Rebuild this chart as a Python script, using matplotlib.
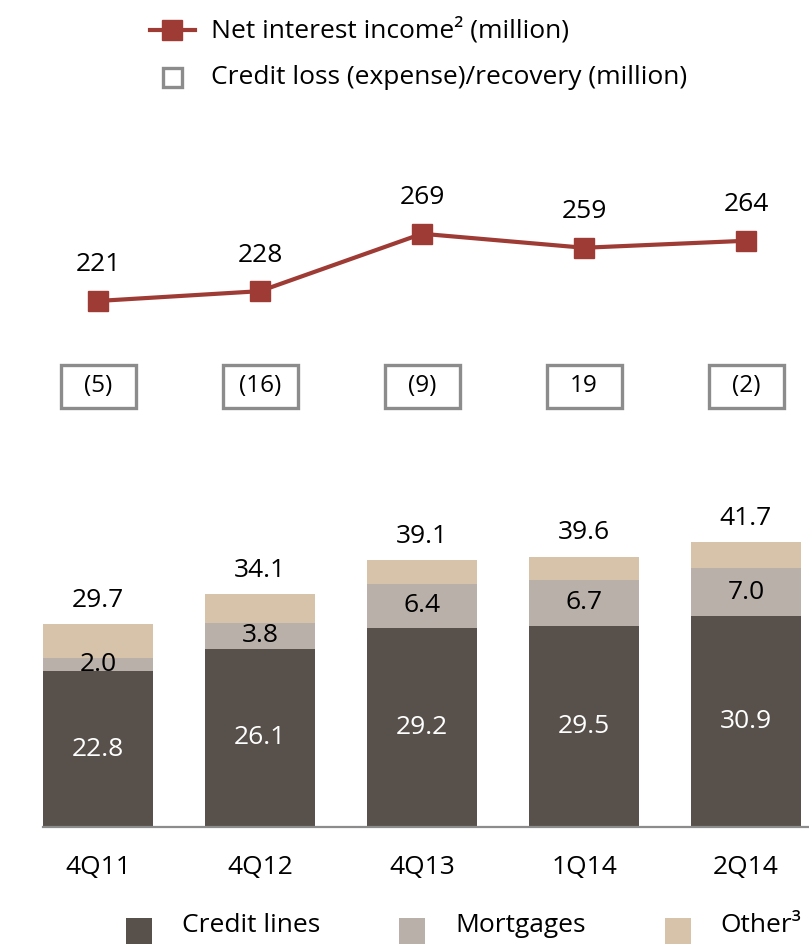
import matplotlib
matplotlib.use("Agg")
import matplotlib.pyplot as plt
from matplotlib.patches import Rectangle
from matplotlib.lines import Line2D

plt.rcParams['font.family'] = ['Open Sans', 'DejaVu Sans']

# ---- data ----
quarters = ["4Q11", "4Q12", "4Q13", "1Q14", "2Q14"]
net_interest_income = [221, 228, 269, 259, 264]
credit_loss_labels = ["(5)", "(16)", "(9)", "19", "(2)"]
credit_lines = [22.8, 26.1, 29.2, 29.5, 30.9]
mortgages = [2.0, 3.8, 6.4, 6.7, 7.0]
totals = [29.7, 34.1, 39.1, 39.6, 41.7]
other = [round(t - c - m, 1) for t, c, m in zip(totals, credit_lines, mortgages)]

# ---- style ----
RED = "#9e3b35"
C_CREDIT = "#58504a"
C_MORT = "#b9b0aa"
C_OTHER = "#d7c3a9"
GRAY = "#8c8c8c"
FS = 19

W, H = 809, 944
fig = plt.figure(figsize=(W / 100, H / 100), dpi=100)

def fx(px):
    return px / W

def fy(py):
    return 1 - py / H

x = list(range(len(quarters)))
xl = ((43 - 98) / 162, (808 - 98) / 162)

# ---- bar axes ----
axb = fig.add_axes([fx(43), fy(827), fx(808) - fx(43), fy(480) - fy(827)])
bw = 110 / 162
axb.bar(x, credit_lines, width=bw, color=C_CREDIT)
axb.bar(x, mortgages, width=bw, bottom=credit_lines, color=C_MORT)
bot2 = [c + m for c, m in zip(credit_lines, mortgages)]
axb.bar(x, other, width=bw, bottom=bot2, color=C_OTHER)
axb.set_xlim(*xl)
axb.set_ylim(0, 347 / 6.83)
for i in x:
    axb.text(i, credit_lines[i] / 2, f"{credit_lines[i]:.1f}", ha="center", va="center",
             color="white", fontsize=FS)
    axb.text(i, credit_lines[i] + mortgages[i] / 2, f"{mortgages[i]:.1f}", ha="center",
             va="center", color="black", fontsize=FS)
    axb.annotate(f"{totals[i]:.1f}", (i, totals[i]), xytext=(0, 17), textcoords="offset points",
                 ha="center", va="center", fontsize=FS)
for s in ["top", "left", "right"]:
    axb.spines[s].set_visible(False)
axb.spines["bottom"].set_color(GRAY)
axb.spines["bottom"].set_linewidth(1.6)
axb.set_yticks([])
axb.set_xticks(x)
axb.set_xticklabels(quarters, fontsize=FS)
axb.tick_params(axis="x", length=0, pad=20)

# ---- line axes ----
axl = fig.add_axes([fx(43), fy(320), fx(808) - fx(43), fy(180) - fy(320)])
axl.plot(x, net_interest_income, color=RED, lw=3, marker="s", markersize=14,
         markerfacecolor=RED, markeredgecolor=RED)
axl.set_xlim(*xl)
axl.set_ylim(207.4, 307.4)
for i in x:
    axl.annotate(str(net_interest_income[i]), (i, net_interest_income[i]), xytext=(0, 26),
                 textcoords="offset points", ha="center", va="center", fontsize=FS)
axl.axis("off")

# ---- credit loss boxes ----
axc = fig.add_axes([fx(43), fy(420), fx(808) - fx(43), fy(355) - fy(420)])
axc.set_xlim(*xl)
axc.set_ylim(0, 65)
boxw = 75 / 162
for i in x:
    axc.add_patch(Rectangle((i - boxw / 2, 12), boxw, 43, facecolor="white",
                            edgecolor=GRAY, lw=2.4))
    axc.text(i, 33.5, credit_loss_labels[i], ha="center", va="center", fontsize=FS - 1.5)
axc.axis("off")

# ---- top legend ----
fig.add_artist(Line2D([fx(150), fx(195)], [fy(30), fy(30)], color=RED, lw=3))
fig.add_artist(Line2D([fx(172)], [fy(30)], marker="s", markersize=14, color=RED))
fig.text(fx(211), fy(30), "Net interest income\u00b2 (million)", ha="left", va="center", fontsize=FS)
fig.add_artist(Rectangle((fx(163), fy(87)), fx(19), fy(68) - fy(87), facecolor="white",
                         edgecolor=GRAY, lw=2.4, transform=fig.transFigure))
fig.text(fx(211), fy(77), "Credit loss (expense)/recovery (million)", ha="left", va="center",
         fontsize=FS)

# ---- bottom legend ----
for sx, tx, col, lab in [(126, 182, C_CREDIT, "Credit lines"),
                         (399, 455, C_MORT, "Mortgages"),
                         (665, 720, C_OTHER, "Other\u00b3")]:
    fig.add_artist(Rectangle((fx(sx), fy(948)), fx(26), fy(918) - fy(948), facecolor=col,
                             edgecolor="none", transform=fig.transFigure))
    fig.text(fx(tx), fy(926), lab, ha="left", va="center", fontsize=FS)

fig.savefig("out.png", dpi=100)
